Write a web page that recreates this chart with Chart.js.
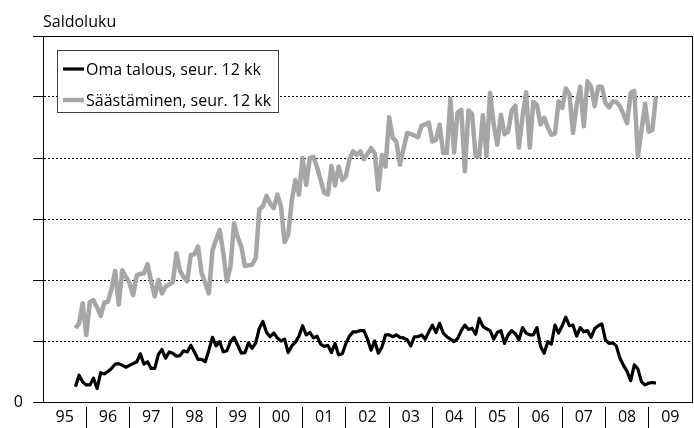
<!DOCTYPE html>
<html>
<head>
<meta charset="utf-8">
<script src="https://cdn.jsdelivr.net/npm/chart.js@4/dist/chart.umd.min.js"></script>
<style>
html,body{margin:0;padding:0;background:#fff;}
#wrap{position:relative;width:694px;height:428px;}
</style>
</head>
<body>
<div id="wrap"><canvas id="c" width="694" height="428"></canvas></div>
<script>
// ---- DATA ----
const axisTitle = 'Saldoluku';
const seriesNames = ['Oma talous, seur. 12 kk', 'Säästäminen, seur. 12 kk'];
const yearLabels = ['95','96','97','98','99','00','01','02','03','04','05','06','07','08','09'];
const firstMonth = 9; // months after Jan 1995 -> Oct 1995
const yTickValues = [0, 10, 20, 30, 40, 50, 60];
const yTickLabels = ['0', '', '', '', '', '', ''];

const omaTalous = [
  2.5, 4.4, 3.3, 2.8, 2.8, 3.9, 2.2, 4.8, 4.6, 5.0,
  5.5, 6.2, 6.3, 6.0, 5.7, 6.0, 6.3, 6.6, 7.9, 6.2,
  6.6, 5.5, 5.5, 7.8, 8.6, 7.2, 8.2, 8.0, 7.5, 7.6,
  8.4, 8.2, 9.3, 8.2, 7.0, 7.0, 6.6, 8.5, 10.6, 9.2,
  9.9, 8.2, 8.4, 9.9, 10.6, 9.3, 8.0, 8.1, 9.7, 8.8,
  9.7, 12.1, 13.2, 11.4, 10.7, 11.3, 10.5, 10.0, 10.3, 8.1,
  9.2, 9.8, 10.8, 12.5, 11.0, 11.4, 10.5, 10.8, 9.5, 9.1,
  9.3, 8.1, 9.6, 7.7, 7.9, 9.6, 10.8, 11.5, 11.5, 11.7,
  11.7, 10.3, 8.5, 10.0, 8.0, 9.0, 11.0, 11.0, 10.7, 11.0,
  10.6, 10.5, 10.2, 9.2, 10.7, 10.7, 11.0, 10.3, 11.5, 12.6,
  11.4, 12.9, 11.3, 10.7, 10.3, 9.9, 10.4, 11.7, 12.6, 11.9,
  12.1, 11.1, 13.7, 12.4, 12.0, 11.7, 10.3, 11.4, 11.7, 9.6,
  11.0, 11.7, 11.2, 10.2, 12.2, 11.3, 11.0, 11.0, 12.2, 9.1,
  8.0, 9.9, 9.5, 12.6, 11.3, 12.5, 13.9, 12.5, 12.6, 10.8,
  12.2, 11.5, 11.7, 10.6, 12.0, 12.5, 12.8, 10.2, 9.6, 9.7,
  9.2, 7.2, 6.0, 5.0, 3.5, 6.1, 5.4, 3.3, 2.8, 3.1,
  3.2, 3.1
];

const saastaminen = [
  12.1, 12.9, 16.2, 11.0, 16.4, 16.7, 15.5, 14.1, 16.3, 16.4,
  18.5, 21.5, 16.0, 21.6, 20.5, 19.5, 17.5, 20.8, 21.0, 21.1,
  22.6, 19.8, 17.3, 20.0, 17.8, 18.9, 19.3, 19.6, 24.4, 21.5,
  20.5, 19.8, 24.1, 24.2, 25.5, 21.1, 19.5, 17.8, 24.8, 26.6,
  28.2, 24.5, 19.8, 22.2, 29.3, 27.0, 25.5, 22.3, 22.4, 22.5,
  23.6, 31.6, 32.1, 33.8, 32.5, 31.8, 34.0, 32.1, 26.2, 27.4,
  33.0, 36.4, 34.0, 40.0, 35.6, 40.0, 40.2, 38.5, 36.4, 34.3,
  34.0, 38.7, 35.5, 38.6, 36.4, 37.0, 39.8, 41.1, 40.5, 41.1,
  39.8, 40.7, 41.6, 40.8, 34.8, 40.5, 38.6, 46.7, 43.3, 42.7,
  38.9, 41.5, 44.1, 43.9, 43.7, 43.4, 45.3, 45.5, 45.8, 42.7,
  43.0, 45.5, 40.8, 40.8, 49.7, 40.9, 47.5, 47.9, 37.8, 47.8,
  47.2, 40.3, 40.3, 47.0, 40.3, 50.7, 45.5, 42.2, 47.1, 43.9,
  44.3, 47.8, 48.6, 41.7, 46.8, 50.8, 41.7, 49.2, 48.7, 45.5,
  46.6, 45.0, 43.8, 44.0, 49.3, 48.2, 51.4, 50.5, 44.1, 48.7,
  51.7, 45.2, 52.6, 51.7, 48.5, 51.7, 51.7, 49.0, 48.3, 49.3,
  49.2, 48.5, 47.2, 45.7, 50.7, 51.0, 40.3, 44.6, 48.9, 44.3,
  44.6, 50.1
];

// ---- CHART ----
const FONT = "'Open Sans'";
const toPoints = arr => arr.map((v, k) => ({ x: firstMonth + k, y: v }));
const totalMonths = yearLabels.length * 12;

const overlay = {
  id: 'overlay',
  afterDraw(chart) {
    const ctx = chart.ctx;
    ctx.save();
    ctx.font = '16px ' + FONT;
    ctx.textAlign = 'left';
    ctx.textBaseline = 'alphabetic';
    ctx.fillStyle = '#000';
    ctx.fillText(axisTitle, 43, 27);
    // legend box
    ctx.fillStyle = '#fff';
    ctx.fillRect(57, 50, 221, 63);
    ctx.strokeStyle = '#404040';
    ctx.lineWidth = 1;
    ctx.strokeRect(57.5, 50.5, 221, 62);
    chart.data.datasets.forEach((ds, k) => {
      const y = 69 + k * 31;
      ctx.strokeStyle = ds.borderColor;
      ctx.lineWidth = ds.borderWidth;
      ctx.beginPath();
      ctx.moveTo(63, y);
      ctx.lineTo(84, y);
      ctx.stroke();
      ctx.fillStyle = '#000';
      ctx.fillText(ds.label, 86, y + 6);
    });
    ctx.restore();
  }
};

function build() {
  new Chart(document.getElementById('c'), {
    type: 'line',
    data: {
      datasets: [
        { label: seriesNames[0], data: toPoints(omaTalous), borderColor: '#000000', borderWidth: 3.2,
          borderJoinStyle: 'round', pointRadius: 0, tension: 0, fill: false },
        { label: seriesNames[1], data: toPoints(saastaminen), borderColor: '#a6a6a6', borderWidth: 4.5,
          borderJoinStyle: 'round', pointRadius: 0, tension: 0, fill: false }
      ]
    },
    options: {
      responsive: false,
      animation: false,
      devicePixelRatio: 1,
      layout: { padding: { top: 36, right: 2, left: 0, bottom: 0 } },
      plugins: { legend: { display: false }, title: { display: false }, tooltip: { enabled: false } },
      scales: {
        x: {
          type: 'linear', position: 'bottom', min: 0, max: totalMonths,
          afterBuildTicks: s => {
            const t = [];
            for (let v = 0; v <= totalMonths; v += 6) t.push({ value: v });
            s.ticks = t;
          },
          afterFit: s => { s.height = 26; },
          ticks: {
            autoSkip: false, maxRotation: 0, minRotation: 0,
            color: '#000', font: { family: FONT, size: 16 }, padding: -20,
            callback: v => (v % 12 === 6 ? yearLabels[(v - 6) / 12] : '')
          },
          grid: {
            drawOnChartArea: true,
            color: c => (c.tick && c.tick.value === totalMonths ? '#000' : 'rgba(0,0,0,0)'),
            lineWidth: 1,
            tickLength: 26,
            tickColor: c => (c.tick && c.tick.value % 12 === 0 && c.tick.value > 0 && c.tick.value < totalMonths ? '#000' : 'rgba(0,0,0,0)'),
            tickBorderDash: [0, 4, 30]
          },
          border: { display: true, color: '#000', width: 1, dash: [] }
        },
        y: {
          min: 0, max: 60,
          afterBuildTicks: s => { s.ticks = yTickValues.map(v => ({ value: v })); },
          afterFit: s => { s.width = 43; },
          ticks: {
            color: '#000', font: { family: FONT, size: 16 }, padding: 10,
            callback: v => yTickLabels[yTickValues.indexOf(v)]
          },
          grid: { color: '#000', lineWidth: 1, tickLength: 10, tickColor: '#000' },
          border: {
            display: true, color: '#000', width: 1,
            dash: c => (c.tick && c.tick.value !== 0 && c.tick.value !== 60 ? [2, 2] : [])
          }
        }
      }
    },
    plugins: [overlay]
  });
}

if (document.fonts && document.fonts.load) {
  document.fonts.load("16px 'Open Sans'").then(build, build);
} else { build(); }
</script>
</body>
</html>
